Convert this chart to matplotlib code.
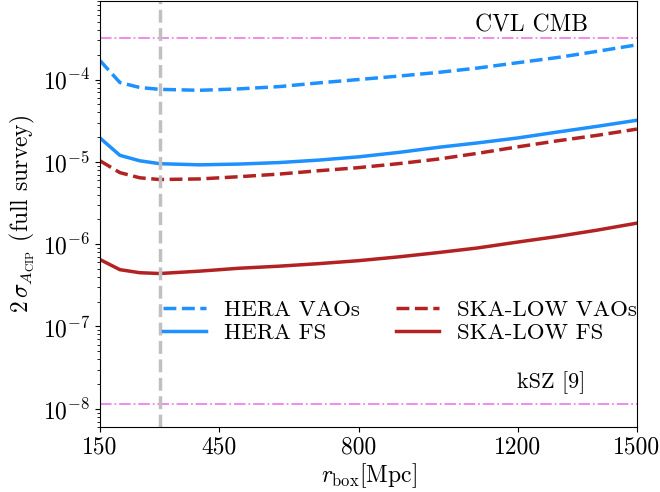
import numpy as np
import matplotlib
matplotlib.use("Agg")
import matplotlib.pyplot as plt

plt.rcParams['font.family'] = 'serif'
plt.rcParams['font.serif'] = ['cmr10']
plt.rcParams['mathtext.fontset'] = 'cm'
plt.rcParams['axes.formatter.use_mathtext'] = True

# box sizes in Mpc
r_box = np.array([150, 200, 250, 300, 400, 500, 600, 700, 800,
                  900, 1000, 1100, 1200, 1300, 1400, 1500])

# 2 sigma on A_CIP (full survey)
hera_vaos = np.array([1.7e-4, 9.2e-5, 8.0e-5, 7.6e-5, 7.4e-5, 7.7e-5, 8.2e-5, 9.1e-5,
                      1.0e-4, 1.1e-4, 1.22e-4, 1.38e-4, 1.6e-4, 1.85e-4, 2.2e-4, 2.64e-4])
hera_fs = np.array([1.95e-5, 1.2e-5, 1.03e-5, 9.5e-6, 9.2e-6, 9.4e-6, 9.8e-6, 1.05e-5,
                    1.15e-5, 1.3e-5, 1.5e-5, 1.7e-5, 1.95e-5, 2.3e-5, 2.7e-5, 3.2e-5])
ska_vaos = np.array([1.03e-5, 7.4e-6, 6.4e-6, 6.1e-6, 6.2e-6, 6.6e-6, 7.1e-6, 7.8e-6,
                     8.5e-6, 9.5e-6, 1.08e-5, 1.27e-5, 1.52e-5, 1.8e-5, 2.1e-5, 2.5e-5])
ska_fs = np.array([6.5e-7, 4.9e-7, 4.5e-7, 4.4e-7, 4.7e-7, 5.1e-7, 5.4e-7, 5.8e-7,
                   6.3e-7, 7.0e-7, 7.9e-7, 9.0e-7, 1.06e-6, 1.24e-6, 1.48e-6, 1.8e-6])

cvl_cmb = 3.2e-4
ksz = 1.15e-8
r_mark = 300
xticks = [150, 450, 800, 1200, 1500]

fig = plt.figure(figsize=(6.6, 4.92), dpi=100)
ax = fig.add_axes([0.1515, 0.132, 0.8135, 0.866])

ax.plot(r_box, hera_vaos, color='dodgerblue', ls='--', lw=2.5, label='HERA VAOs')
ax.plot(r_box, hera_fs, color='dodgerblue', ls='-', lw=2.5, label='HERA FS')
ax.plot(r_box, ska_vaos, color='firebrick', ls='--', lw=2.5, label='SKA-LOW VAOs')
ax.plot(r_box, ska_fs, color='firebrick', ls='-', lw=2.5, label='SKA-LOW FS')

ax.axhline(cvl_cmb, color='violet', ls='-.', lw=1.3)
ax.axhline(ksz, color='violet', ls='-.', lw=1.3)
ax.axvline(r_mark, color='silver', ls='--', lw=2.5)

ax.text(1235, cvl_cmb * 1.05, 'CVL CMB', ha='center', va='bottom', fontsize=17)
ax.text(1285, ksz * 1.3, 'kSZ [9]', ha='center', va='bottom', fontsize=16)

ax.set_yscale('log')
ax.set_xlim(150, 1500)
ax.set_ylim(6e-9, 9e-4)
ax.set_xticks(xticks)
ax.set_xticklabels([str(t) for t in xticks])
ax.tick_params(labelsize=17)

ax.set_xlabel(r'$r_{\rm box}$[Mpc]', fontsize=17, labelpad=2)
ax.set_ylabel(r'$2\,\sigma_{A_{\rm CIP}}$ (full survey)', fontsize=17)

ax.legend(ncol=2, frameon=False, fontsize=16.5, loc='upper left',
          bbox_to_anchor=(0.1006, 0.320), borderaxespad=0, columnspacing=1.6,
          handlelength=1.85, handletextpad=0.8, labelspacing=0.15)

fig.savefig('out.png', dpi=100)
